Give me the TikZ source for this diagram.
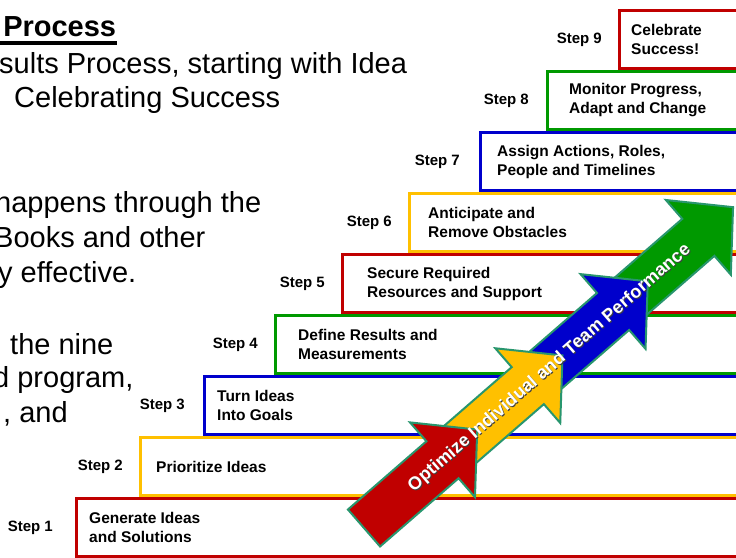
\documentclass[tikz,border=0pt]{standalone}
\usepackage{fontspec}
\setmainfont{Liberation Sans}
\usetikzlibrary{positioning}
\definecolor{stepred}{RGB}{192,0,0}
\definecolor{stepyellow}{RGB}{255,192,0}
\definecolor{stepblue}{RGB}{0,0,204}
\definecolor{stepgreen}{RGB}{0,153,0}
\definecolor{arrowedge}{RGB}{40,150,110}
\tikzset{
    % Box styles
    step box/.style={
        draw,
        fill=white,
        line width=3pt,
        rectangle,
        minimum height=58pt,
        anchor=north west
    },
    step text/.style={
        inner sep=0pt,
        align=left,
        font=\fontsize{15.5}{19}\selectfont\bfseries
    },
    step label/.style={
        inner sep=0pt,
        font=\fontsize{15}{18}\selectfont\bfseries
    },
    % Slide text
    body text/.style={
        anchor=base west,
        inner sep=0pt,
        font=\fontsize{29}{35}\selectfont
    },
    % Arrow styles
    block arrow/.style={
        draw=arrowedge,
        line width=2pt,
        line join=miter
    },
    arrow text/.style={
        inner sep=0pt,
        rotate=41,
        font=\fontsize{18}{18}\selectfont\bfseries
    }
}

\begin{document}
\begin{tikzpicture}[x=1pt, y=1pt]
        \useasboundingbox (0,0) rectangle (736,557);
        \fill[white] (0,0) rectangle (736,557);
        \clip (0,0) rectangle (736,557);

        % Slide text (cut at the left)
        \node[body text, font=\fontsize{29}{35}\selectfont\bfseries] (heading) at (-5,520) {\rlap{\rule[-8pt]{122pt}{3.5pt}}~Process};
        \node[body text] (line1) at (-1,483) {sults Process, starting with Idea};
        \node[body text] (line2) at (14,449) {Celebrating Success};
        \node[body text] (line3) at (-5,344) {happens through the};
        \node[body text] (line4) at (-6,309) {Books and other};
        \node[body text] (line5) at (-2,274) {y effective.};
        \node[body text] (line6) at (10,202) {the nine};
        \node[body text] (line7) at (-7,169) {d program,};
        \node[body text] (line8) at (3,134) {, and};

        % Stairs
        \foreach \n/\x/\pad/\gap/\col/\txt in {
            1/75/14/22/stepred/{Generate Ideas\\and Solutions},
            2/139/17/16/stepyellow/{Prioritize Ideas},
            3/203/14/18/stepblue/{Turn Ideas\\Into Goals},
            4/274/24/16/stepgreen/{Define Results and\\Measurements},
            5/341/26/16/stepred/{Secure Required\\Resources and Support},
            6/408/20/16/stepyellow/{Anticipate and\\Remove Obstacles},
            7/479/18/19/stepblue/{Assign Actions, Roles,\\People and Timelines},
            8/546/23/17/stepgreen/{Monitor Progress,\\Adapt and Change},
            9/618/13/16/stepred/{Celebrate\\Success!}} {
            \node[step box, draw=\col, minimum width={(760-\x)*1pt}] (box\n) at (\x,{60+61*(\n-1)}) {};
            \node[step text, anchor=west, right=\pad pt of box\n.west] (text\n) {\txt};
            \node[step label, anchor=east, left=\gap pt of box\n.west] (label\n) {Step \n};
        }

        % Performance arrow
        \begin{scope}[shift={(364,29)}, rotate=41]
            \foreach \i/\col in {3/stepgreen,2/stepblue,1/stepyellow,0/stepred} {
                \filldraw[block arrow, fill=\col]
                    (113*\i,24.5) -- (113*\i+104,24.5) -- (113*\i+104,49.5)
                    -- (113*\i+150,0) -- (113*\i+104,-49.5) -- (113*\i+104,-24.5)
                    -- (113*\i,-24.5) -- cycle;
            }
            \node[arrow text, text=black!75] (slogan shadow) at (245.1,-2.4) {Optimize Individual and Team Performance};
            \node[arrow text, text=white] (slogan) at (245,-1) {Optimize Individual and Team Performance};
        \end{scope}
    \end{tikzpicture}
\end{document}
